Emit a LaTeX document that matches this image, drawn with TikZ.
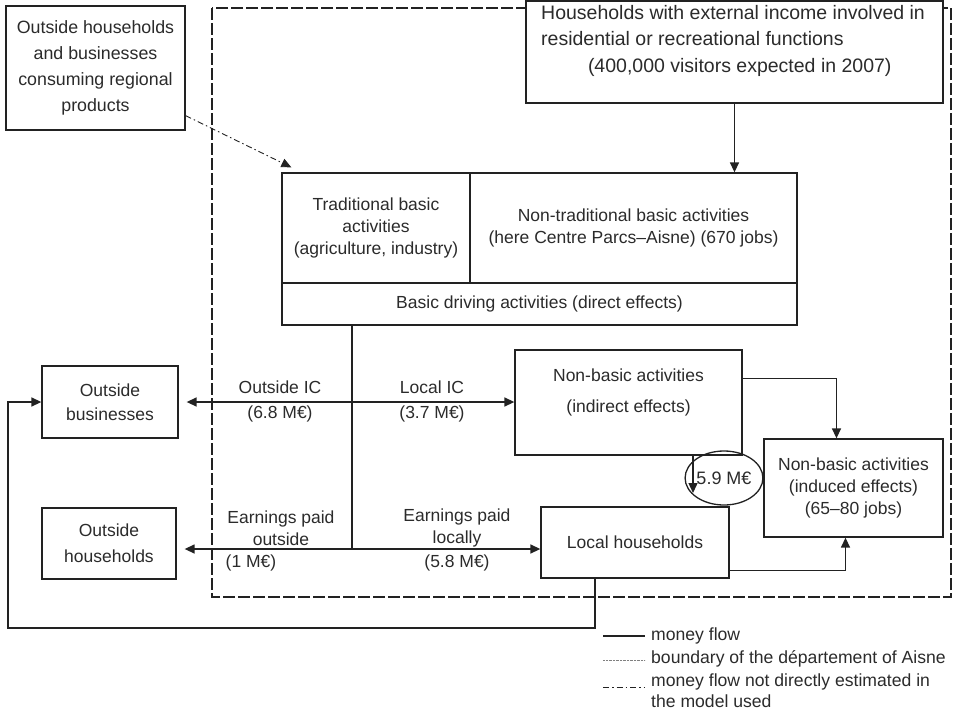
\documentclass[tikz,border=0pt]{standalone}
\usepackage{fontspec}
\setmainfont{Liberation Sans}
\usetikzlibrary{positioning,arrows.meta,calc,shapes.geometric}
\definecolor{dline}{HTML}{222222}
\definecolor{dtext}{HTML}{2B2B2B}
\tikzset{
  >={Triangle[length=10pt,width=9pt]},
  box/.style={draw=dline,fill=white,line width=1.3pt,inner sep=0pt,align=center,text=dtext},
  lbl/.style={inner sep=0pt,align=center,text=dtext},
  flow/.style={draw=dline,line width=1.4pt},
  hint/.style={draw=dline,line width=0.9pt,dash pattern=on 6pt off 3pt on 1.5pt off 3pt},
  border/.style={draw=dline,line width=1.3pt,dash pattern=on 12pt off 3pt},
}
\begin{document}
\begin{tikzpicture}[x=1pt,y=-1pt,font=\fontsize{17.5}{22}\selectfont]
 \useasboundingbox (0,0) rectangle (956,715);
 % boundary of the departement
 \draw[border] (212,8) rectangle (951,597);
 % outside the boundary
 \node[box,minimum width=179pt,minimum height=124pt,font=\fontsize{17.8}{26}\selectfont] (consume) at (95.5,68)
   {Outside households\\and businesses\\consuming regional\\products};
 \node[box,minimum width=136pt,minimum height=72pt,font=\fontsize{17.5}{24}\selectfont] (obus) at (110,402) {Outside\\businesses};
 \node[box,minimum width=134pt,minimum height=71pt,font=\fontsize{17.5}{26}\selectfont] (ohh) at (109,543.5) {Outside\\households};
 % basic activities
 \node[box,minimum width=417pt,minimum height=102pt] (visitors) at (734.5,52) {};
 \node[lbl,align=left,anchor=north west,font=\fontsize{19.5}{26.5}\selectfont] (visitorstext) at (541,5)
   {Households with external income involved in\\residential or recreational functions\\\hspace*{2.4em}(400,000 visitors expected in 2007)};
 \node[box,minimum width=188pt,minimum height=110pt] (trad) at (376,228)
   {Traditional basic\\activities\\(agriculture, industry)};
 \node[box,minimum width=327pt,minimum height=110pt] (nontrad) at (633.5,228)
   {Non-traditional basic activities\\(here Centre Parcs--Aisne) (670 jobs)};
 \node[box,minimum width=515pt,minimum height=42pt] (driving) at (539.5,304)
   {Basic driving activities (direct effects)};
 % non-basic activities
 \node[box,minimum width=227pt,minimum height=105pt] (indirect) at (628.5,402.5) {};
 \node[lbl,font=\fontsize{17.5}{31}\selectfont] (indirecttext) at (628.5,392)
   {Non-basic activities\\(indirect effects)};
 \node[box,minimum width=179pt,minimum height=98pt] (induced) at (853.5,488)
   {Non-basic activities\\(induced effects)\\(65--80 jobs)};
 \node[box,minimum width=188pt,minimum height=71pt] (localhh) at (635,542.5) {Local households};
 \node[box,fill=none,ellipse,minimum width=62pt,minimum height=54pt,font=\fontsize{18}{22}\selectfont] (spill) at (724,478) {5.9 M€};
 % flow labels
 \node[lbl,font=\fontsize{17.5}{25}\selectfont] (outic) at (280,401.5) {Outside IC\\(6.8 M€)};
 \node[lbl,font=\fontsize{17.5}{25}\selectfont] (locic) at (432,401.5) {Local IC\\(3.7 M€)};
 \node[lbl] (outpay) at (281,528) {Earnings paid\\outside};
 \node[lbl] (outpayv) at (251,563) {(1 M€)};
 \node[lbl] (locpay) at (457,528) {Earnings paid\\locally};
 \node[lbl] (locpayv) at (457,563) {(5.8 M€)};
 % flows
 \coordinate (trunk) at (352,549);
 \coordinate (loopsw) at (8,628);
 \coordinate (spillin) at (693,493);
 \draw[hint,->] ([yshift=15pt]consume.south east) -- ([xshift=10pt,yshift=5pt]trad.north west);
 \draw[flow,->] (visitors.south) -- (visitors.south |- nontrad.north);
 \draw[flow] (driving.south -| trunk) -- (trunk);
 \draw[flow,<->] ($(obus.east)+(8,0)$) -- (indirect.west |- obus.east);
 \draw[flow,<->] ($(ohh.east |- trunk)+(8,0)$) -- (localhh.west |- trunk);
 \draw[flow,->] ([yshift=24pt]indirect.east) -| ([xshift=-17pt]induced.north);
 \draw[flow,->] ([yshift=-28pt]localhh.east) -| ([xshift=-8pt]induced.south);
 \draw[flow,->] (indirect.south -| spillin) -- (spillin);
 \draw[flow,->] ([xshift=-40pt]localhh.south) |- (loopsw) |- (obus.west);
 % legend
 \coordinate (legaA) at (603,636); \coordinate (legaB) at (645,636);
 \coordinate (legbA) at (603,660); \coordinate (legbB) at (645,660);
 \coordinate (legcA) at (603,687); \coordinate (legcB) at (645,687);
 \draw[flow] (legaA) -- (legaB);
 \draw[gray,line width=0.5pt,dash pattern=on 0.7pt off 0.7pt] (legbA) -- (legbB);
 \draw[hint,line width=0.6pt] (legcA) -- (legcB);
 \node[lbl,anchor=west,font=\fontsize{17.6}{22}\selectfont] (legflow) at (651,636) {money flow};
 \node[lbl,anchor=west,font=\fontsize{17.6}{22}\selectfont] (legbound) at (651,659) {boundary of the département of Aisne};
 \node[lbl,anchor=north west,align=left,font=\fontsize{17.6}{21}\selectfont] (leghint) at (651,674)
   {money flow not directly estimated in\\the model used};
\end{tikzpicture}
\end{document}
